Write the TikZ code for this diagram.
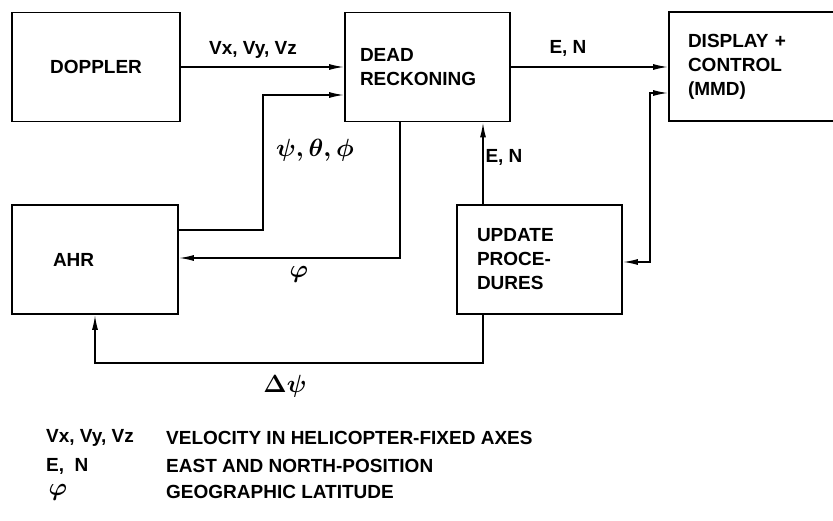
\documentclass[tikz,border=0pt]{standalone}
\usepackage{fontspec}
\setmainfont{Liberation Sans}
\usetikzlibrary{arrows.meta, positioning}

\begin{document}
\begin{tikzpicture}[
  x=1pt, y=-1pt,
  box/.style={rectangle, draw=black, line width=1.8pt, minimum height=109pt,
              font=\fontsize{19}{24}\selectfont\bfseries, align=left},
  lbl/.style={font=\fontsize{19}{24}\selectfont\bfseries\boldmath, inner sep=1pt},
  greek/.style={font=\fontsize{23}{26}\selectfont\boldmath, inner sep=1pt},
  arrow/.style={-{Latex[length=15pt, width=6pt]}, line width=1.5pt},
  dblarrow/.style={{Latex[length=15pt, width=6pt]}-{Latex[length=15pt, width=6pt]}, line width=1.5pt}
]
  \useasboundingbox (0,0) rectangle (833,521);
  \clip (0,0) rectangle (833,521);

  \node[box, minimum width=168pt, align=center] (doppler) at (96,67) {DOPPLER};
  \node[box, text width=135pt, inner xsep=15pt] (dr) at (427.5,67) {DEAD\\RECKONING};
  \node[box, text width=135pt, inner xsep=19pt] (disp) at (755.5,66.5) {DISPLAY +\\CONTROL\\(MMD)};
  \node[box, text width=84pt, inner xsep=41pt] (ahr) at (95,259.5) {AHR};
  \node[box, text width=125pt, inner xsep=20pt] (upd) at (539.5,259.5) {UPDATE\\PROCE-\\DURES};

  \draw[arrow] (doppler.east) -- (dr.west |- doppler.east);
  \draw[arrow] (dr.east) -- (disp.west |- dr.east);
  \draw[arrow] (ahr.east |- 0,230) -| (263,95) -- (dr.west |- 0,95);
  \draw[arrow] (dr.south -| 400,0) |- (ahr.east |- 0,258);
  \draw[arrow] (upd.north -| 483,0) -- (dr.south -| 483,0);
  \draw[dblarrow] (upd.east |- 0,262) -| (650,93) -- (disp.west |- 0,93);
  \draw[arrow] (upd.south -| 483,0) |- (95,363) -- (ahr.south -| 95,0);

  \node[lbl] (vlab) at (253,50) {Vx, Vy, Vz};
  \node[lbl] (enlab) at (568,48) {E, N};
  \node[greek] (attlab) at (315,150) {$\psi,\theta,\phi$};
  \node[greek] (latlab) at (299,274) {$\varphi$};
  \node[lbl] (uplab) at (504,157) {E, N};
  \node[greek] (dpsilab) at (285,386) {$\Delta\psi$};

  \node[lbl, anchor=west] (kvel) at (45,438) {Vx, Vy, Vz};
  \node[lbl, anchor=west] (tvel) at (165,438) {VELOCITY IN HELICOPTER-FIXED AXES};
  \node[lbl, anchor=west] (kpos) at (45,466) {E,\ \ N};
  \node[lbl, anchor=west] (tpos) at (165,466) {EAST AND NORTH-POSITION};
  \node[greek] (klat) at (58,492) {$\varphi$};
  \node[lbl, anchor=west] (tlat) at (165,492) {GEOGRAPHIC LATITUDE};
\end{tikzpicture}
\end{document}
